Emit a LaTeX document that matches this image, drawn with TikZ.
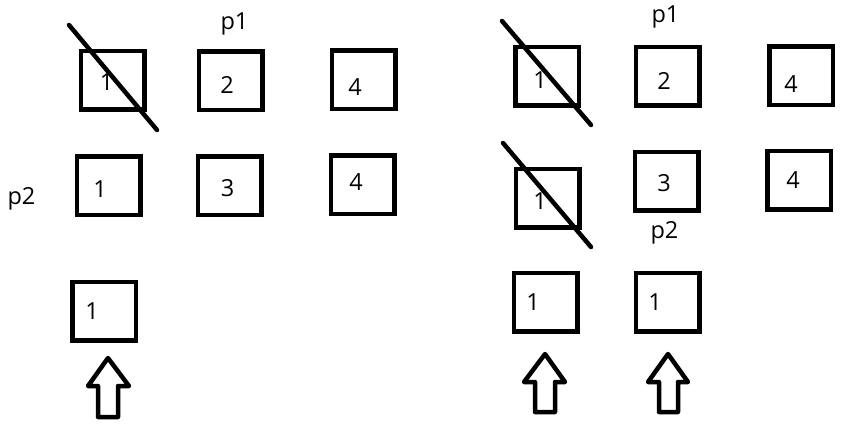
\documentclass[tikz,border=0pt]{standalone}
\usepackage{fontspec}
\setmainfont{Open Sans}
\begin{document}
\begin{tikzpicture}[x=1pt,y=-1pt,
  box/.style={draw, line width=4.5pt, minimum width=63.5pt, minimum height=58.5pt, inner sep=0pt},
  lbl/.style={inner sep=0pt, font=\fontsize{23.5}{28}\selectfont},
  slash/.style={line width=4.5pt, line cap=round},
  bigarrow/.style={line width=4.5pt, line join=round}]
\useasboundingbox (0,0) rectangle (846,426);
% left panel boxes
\node[box] (L1a) at (112.5,80) {};
\node[box] (L2) at (230.5,80.5) {};
\node[box] (L4a) at (363.5,79.5) {};
\node[box] (L1b) at (108.5,185.5) {};
\node[box] (L3) at (229.5,185.5) {};
\node[box] (L4b) at (362.5,184.5) {};
\node[box] (L1c) at (104,311) {};
\node[lbl] (tL1a) at (106.5,82.5) {1};
\node[lbl] (tL2) at (227,85) {2};
\node[lbl] (tL4a) at (355,87.5) {4};
\node[lbl] (tL1b) at (100,189) {1};
\node[lbl] (tL3) at (227.5,188) {3};
\node[lbl] (tL4b) at (356,182.5) {4};
\node[lbl] (tL1c) at (92,311) {1};
\node[lbl] (p1L) at (234.5,24) {p1};
\node[lbl] (p2L) at (21.5,199) {p2};
\draw[slash] (69,25) -- (157,130);
\draw[bigarrow] (108,358) -- (88,386) -- (98,386) -- (98,417) -- (118,417) -- (118,386) -- (129,386) -- cycle;
% right panel boxes
\node[box] (R1a) at (547,76) {};
\node[box] (R2) at (667.5,76) {};
\node[box] (R4a) at (801,75.5) {};
\node[box] (R1b) at (547.5,198) {};
\node[box] (R3) at (666.5,181) {};
\node[box] (R4b) at (799,180) {};
\node[box] (R1c) at (545.5,302) {};
\node[box] (R1d) at (667.5,302) {};
\node[lbl] (tR1a) at (540,80) {1};
\node[lbl] (tR2) at (664,81) {2};
\node[lbl] (tR4a) at (791,84) {4};
\node[lbl] (tR1b) at (540,201) {1};
\node[lbl] (tR3) at (664,183.5) {3};
\node[lbl] (tR4b) at (793,180) {4};
\node[lbl] (tR1c) at (533,302) {1};
\node[lbl] (tR1d) at (655,302) {1};
\node[lbl] (p1R) at (665.5,16.5) {p1};
\node[lbl] (p2R) at (664.5,232.5) {p2};
\draw[slash] (502,21) -- (591,125);
\draw[slash] (503,143) -- (591,247);
\draw[bigarrow] (545,354) -- (524,382) -- (535,382) -- (535,412) -- (555,412) -- (555,382) -- (565,382) -- cycle;
\draw[bigarrow] (668,354) -- (648,382) -- (659,382) -- (659,412) -- (678,412) -- (678,382) -- (688,382) -- cycle;
\end{tikzpicture}
\end{document}
